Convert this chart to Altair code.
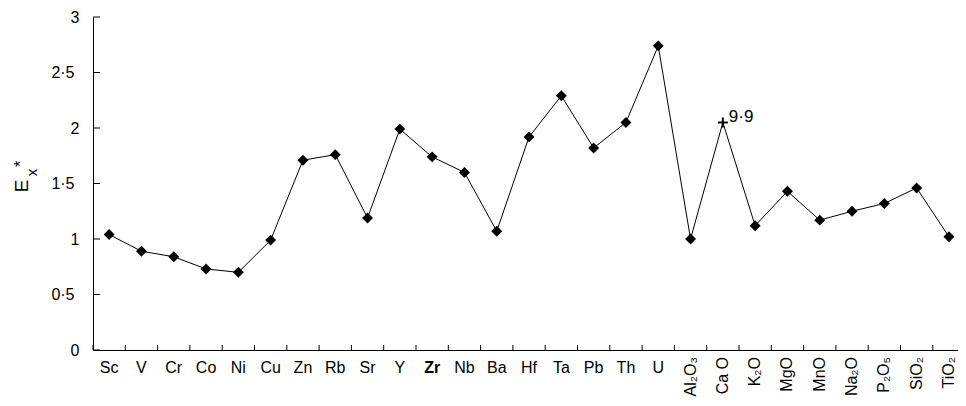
import altair as alt
import pandas as pd

labels = ["Sc", "V", "Cr", "Co", "Ni", "Cu", "Zn", "Rb", "Sr", "Y", "Zr", "Nb", "Ba",
          "Hf", "Ta", "Pb", "Th", "U", "Al₂O₃", "Ca O", "K₂O", "MgO", "MnO", "Na₂O",
          "P₂O₅", "SiO₂", "TiO₂"]
values = [1.04, 0.89, 0.84, 0.73, 0.70, 0.99, 1.71, 1.76, 1.19, 1.99, 1.74, 1.60, 1.07,
          1.92, 2.29, 1.82, 2.05, 2.74, 1.00, 2.05, 1.12, 1.43, 1.17, 1.25, 1.32, 1.46, 1.02]
kinds = ["element"] * 18 + ["oxide"] * 9
markers = ["diamond"] * 27
markers[19] = "plus"
off_scale_label = "9·9"
y_ticks = [0, 0.5, 1, 1.5, 2, 2.5, 3]

W = 865
H = 333
BAND = 32.3
XMAX = W / BAND

df = pd.DataFrame({
    "pos": [i + 0.5 for i in range(len(labels))],
    "label": labels,
    "value": values,
    "kind": kinds,
    "marker": markers,
})
ticks_df = pd.DataFrame({"t": [t for t in range(0, len(labels) + 1) if t <= XMAX]})
yt_df = pd.DataFrame({"v": y_ticks})

xs = alt.Scale(domain=[0, XMAX], nice=False, zero=False)
ys = alt.Scale(domain=[0, 3], nice=False)
FONT = "Liberation Sans"

base = alt.Chart(df)

line = base.mark_line(color="black", strokeWidth=1).encode(
    x=alt.X("pos:Q", scale=xs, axis=alt.Axis(labels=False, ticks=False, grid=False,
                                             title=None, domainColor="black")),
    y=alt.Y("value:Q", scale=ys, axis=alt.Axis(values=y_ticks, ticks=False, grid=False,
                                               title=None, domainColor="black",
                                               format="~g",
                                               labelFont=FONT, labelFontSize=16,
                                               labelColor="black",
                                               labelPadding={"condition": {"test": "datum.value % 1 != 0", "value": 19},
                                                             "value": 14},
                                               labelExpr="replace(datum.label, '.', '·')")),
)

diamonds = base.transform_filter(alt.datum.marker == "diamond").mark_point(
    shape="diamond", filled=True, color="black", size=120, opacity=1
).encode(x=alt.X("pos:Q", scale=xs), y=alt.Y("value:Q", scale=ys))

plus = base.transform_filter(alt.datum.marker == "plus").mark_point(
    shape="M-1,0L1,0M0,-1L0,1", filled=False, color="black", strokeWidth=2, size=100, opacity=1
).encode(x=alt.X("pos:Q", scale=xs), y=alt.Y("value:Q", scale=ys))

plus_text = base.transform_filter(alt.datum.marker == "plus").mark_text(
    text=off_scale_label, align="left", baseline="middle", dx=6, dy=-5,
    font=FONT, fontSize=17, color="black"
).encode(x=alt.X("pos:Q", scale=xs), y=alt.Y("value:Q", scale=ys))

xticks = alt.Chart(ticks_df).mark_rule(color="black", strokeWidth=1).encode(
    x=alt.X("t:Q", scale=xs), y=alt.value(H), y2=alt.value(H - 5)
)
yticks = alt.Chart(yt_df).mark_rule(color="black", strokeWidth=1).encode(
    y=alt.Y("v:Q", scale=ys), x=alt.value(0), x2=alt.value(7)
)

elem_labels = base.transform_filter(
    (alt.datum.kind == "element") & (alt.datum.label != "Zr")
).mark_text(font=FONT, fontSize=16, color="black", baseline="middle", align="center").encode(
    x=alt.X("pos:Q", scale=xs), y=alt.value(H + 18), text="label:N"
)
zr_label = base.transform_filter(alt.datum.label == "Zr").mark_text(
    font=FONT, fontSize=16, fontWeight="bold", color="black", baseline="middle", align="center"
).encode(x=alt.X("pos:Q", scale=xs), y=alt.value(H + 18), text="label:N")

ox_labels = base.transform_filter(alt.datum.kind == "oxide").mark_text(
    font=FONT, fontSize=16, color="black", baseline="middle", align="right", angle=270
).encode(x=alt.X("pos:Q", scale=xs), y=alt.value(H + 7), text="label:N")

title_df = pd.DataFrame({"t": ["E"]})
t_E = alt.Chart(title_df).mark_text(
    text="E", font=FONT, fontSize=19, angle=270, color="black", align="center",
    baseline="alphabetic"
).encode(x=alt.value(-65), y=alt.value(169))
t_x = alt.Chart(title_df).mark_text(
    text="x", font=FONT, fontSize=15, angle=270, color="black", align="center",
    baseline="alphabetic"
).encode(x=alt.value(-56), y=alt.value(155.5))
t_star = alt.Chart(title_df).mark_text(
    text="*", font=FONT, fontSize=16, angle=270, color="black", align="center",
    baseline="alphabetic"
).encode(x=alt.value(-67.5), y=alt.value(147))

chart = alt.layer(
    line, xticks, yticks, diamonds, plus, plus_text, elem_labels, zr_label, ox_labels,
    t_E, t_x, t_star
).properties(
    width=W, height=H,
    autosize=alt.AutoSizeParams(type="none"),
    padding={"left": 85, "top": 9, "right": 0, "bottom": 48},
).configure_view(stroke=None)

chart.save("out.html", embed_options={"renderer": "svg", "actions": False})
